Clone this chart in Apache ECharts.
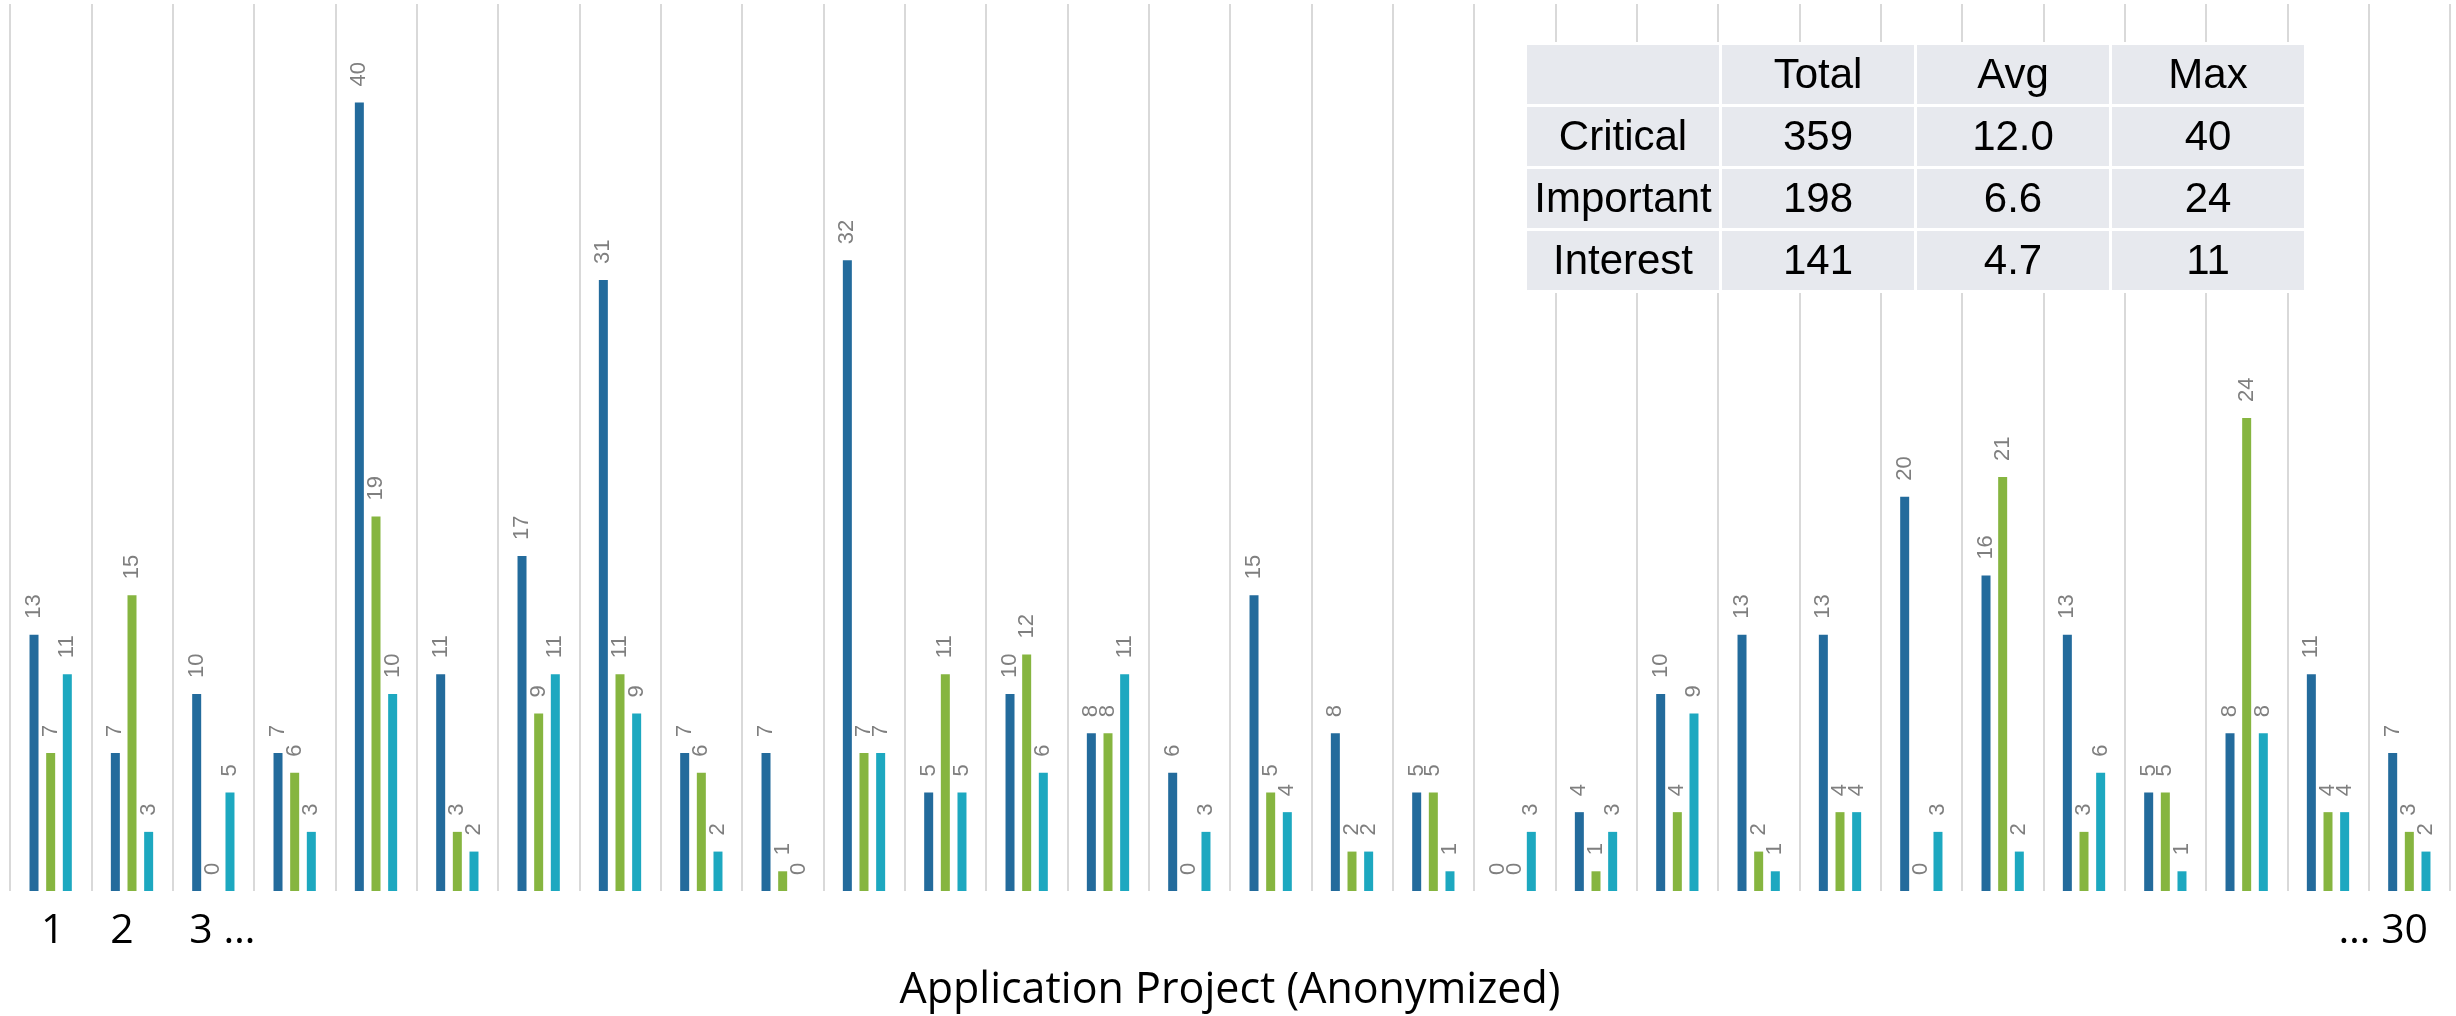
<!DOCTYPE html>
<html>
<head>
<meta charset="utf-8">
<script src="https://cdn.jsdelivr.net/npm/echarts@6/dist/echarts.min.js"></script>
<style>
  html, body { margin: 0; padding: 0; background: #fff; }
  #chart { width: 2456px; height: 1016px; }
</style>
</head>
<body>
<div id="chart"></div>
<script>
// projects 1..30 (anonymized)
const categories = ['1', '2', '3', '4', '5', '6', '7', '8', '9', '10',
  '11', '12', '13', '14', '15', '16', '17', '18', '19', '20',
  '21', '22', '23', '24', '25', '26', '27', '28', '29', '30'];

// only a few ticks are labelled in the original
const xTickLabels = ['1', '2', '3 …', '', '', '', '', '', '', '',
  '', '', '', '', '', '', '', '', '', '',
  '', '', '', '', '', '', '', '', '', '… 30'];

const critical = [13, 7, 10, 7, 40, 11, 17, 31, 7, 7,
  32, 5, 10, 8, 6, 15, 8, 5, 0, 4,
  10, 13, 13, 20, 16, 13, 5, 8, 11, 7];
const important = [7, 15, 0, 6, 19, 3, 9, 11, 6, 1,
  7, 11, 12, 8, 0, 5, 2, 5, 0, 1,
  4, 2, 4, 0, 21, 3, 5, 24, 4, 3];
const interest = [11, 3, 5, 3, 10, 2, 11, 9, 2, 0,
  7, 5, 6, 11, 3, 4, 2, 1, 3, 3,
  9, 1, 4, 3, 2, 6, 1, 8, 4, 2];

const seriesNames = ['Critical', 'Important', 'Interest'];
const colors = ['#236B9C', '#86B540', '#1DA8C0'];
const tableHeader = ['', 'Total', 'Avg', 'Max'];

const chartDom = document.getElementById('chart');
const myChart = echarts.init(chartDom);

// small shifts so the few tick labels sit where they do in the source
const tickPadding = { 0: [0, 0, 0, 4], 1: [0, 20, 0, 0], 2: [0, 0, 0, 18], 29: [0, 52, 0, 0] };

const xData = categories.map((c, i) => ({
  value: c,
  textStyle: tickPadding[i] ? { padding: tickPadding[i] } : {}
}));

// summary table values, worked out from the series
const allSeries = [critical, important, interest];
const tableRows = allSeries.map((arr, i) => {
  const total = arr.reduce((a, b) => a + b, 0);
  return [seriesNames[i], String(total), (total / arr.length).toFixed(1), String(Math.max(...arr))];
});

const tableLeft = 1527, tableTop = 45, cellW = 192, cellH = 59, cellGap = 3;
const tableCells = [{
  // white backing so the separators stop at the table
  type: 'rect',
  z: 100,
  shape: { x: tableLeft - 3, y: tableTop - 3, width: 4 * cellW + 3 * cellGap + 6, height: 4 * cellH + 3 * cellGap + 6 },
  style: { fill: '#fff' },
  silent: true
}];
[tableHeader].concat(tableRows).forEach((row, r) => {
  row.forEach((txt, c) => {
    const x = tableLeft + c * (cellW + cellGap);
    const y = tableTop + r * (cellH + cellGap);
    tableCells.push({
      type: 'rect',
      z: 101,
      shape: { x: x, y: y, width: cellW, height: cellH },
      style: { fill: '#E7E9EE' },
      silent: true
    });
    tableCells.push({
      type: 'text',
      z: 102,
      x: x + cellW / 2,
      y: y + cellH / 2 + 2,
      style: {
        text: txt,
        fill: '#000',
        font: '42px "Liberation Sans", Arial, sans-serif',
        align: 'center',
        verticalAlign: 'middle'
      },
      silent: true
    });
  });
});

const barLabel = {
  show: true,
  position: 'top',
  distance: 16,
  rotate: 90,
  align: 'left',
  verticalAlign: 'middle',
  color: '#7F7F7F',
  fontSize: 22,
  fontFamily: '"Liberation Sans", Arial, sans-serif'
};

const option = {
  backgroundColor: '#fff',
  animation: false,
  grid: { left: 10, right: 6, top: 4, bottom: 125, outerBoundsMode: 'none', containLabel: false },
  xAxis: {
    type: 'category',
    data: xData,
    boundaryGap: true,
    name: 'Application Project (Anonymized)',
    nameLocation: 'middle',
    nameGap: 78,
    nameTextStyle: { color: '#000', fontSize: 43, fontFamily: '"Open Sans", Lato, sans-serif' },
    axisLine: { show: false },
    axisTick: { show: false },
    axisLabel: {
      interval: 0,
      margin: 20,
      color: '#000',
      fontSize: 41,
      fontFamily: '"Open Sans", Lato, sans-serif',
      formatter: (value, index) => xTickLabels[index]
    },
    splitLine: { show: true, interval: 0, lineStyle: { color: '#D9D9D9', width: 2 } }
  },
  yAxis: {
    type: 'value',
    min: 0,
    max: 45,
    show: false,
    splitLine: { show: false }
  },
  series: allSeries.map((arr, i) => ({
    name: seriesNames[i],
    type: 'bar',
    data: arr,
    barWidth: 9,
    barGap: '85%',
    itemStyle: { color: colors[i] },
    label: barLabel
  })),
  graphic: tableCells
};

myChart.setOption(option);
</script>
</body>
</html>
